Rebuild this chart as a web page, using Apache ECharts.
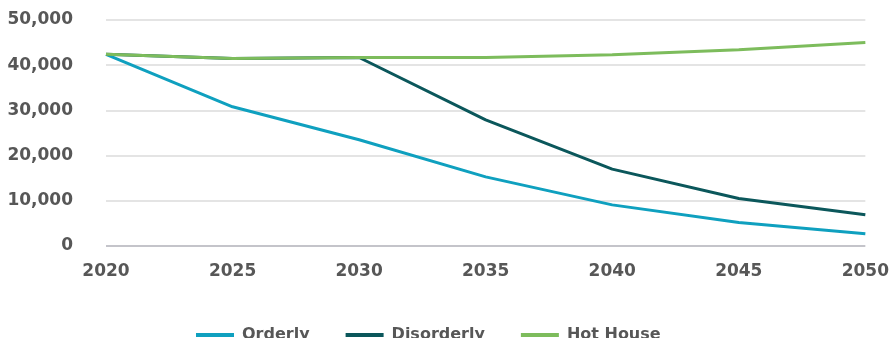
<!DOCTYPE html>
<html>
<head>
<meta charset="utf-8">
<script src="https://cdn.jsdelivr.net/npm/echarts@6/dist/echarts.min.js"></script>
<style>
  html, body { margin: 0; padding: 0; background: #ffffff; }
  #chart { width: 892px; height: 338px; }
</style>
</head>
<body>
<div id="chart"></div>
<script>
// Years along the horizontal axis
const years = ['2020', '2025', '2030', '2035', '2040', '2045', '2050'];

// Scenario pathways
const orderly    = [42400, 30800, 23500, 15300, 9100, 5200, 2700];
const disorderly = [42400, 41500, 41700, 27900, 17000, 10500, 6900];
const hotHouse   = [42400, 41500, 41700, 41700, 42300, 43400, 45000];

const seriesNames = ['Orderly', 'Disorderly', 'Hot House'];
const seriesColors = ['#0fa0bf', '#0b575b', '#7dbc5c'];

const textColor = '#575757';
const font = 'DejaVu Sans';

const chart = echarts.init(document.getElementById('chart'), null, { renderer: 'canvas' });

const makeLine = (name, data, color) => ({
  name: name,
  type: 'line',
  data: data,
  symbol: 'none',
  smooth: false,
  lineStyle: { color: color, width: 3 },
  itemStyle: { color: color }
});

chart.setOption({
  animation: false,
  backgroundColor: '#ffffff',
  grid: { left: 106, right: 23, top: 20, bottom: 92, containLabel: false },
  xAxis: {
    type: 'category',
    data: years,
    boundaryGap: false,
    axisLine: { show: false },
    axisTick: { show: false },
    axisLabel: {
      color: textColor, fontFamily: font, fontWeight: 'bold', fontSize: 17,
      margin: 17
    },
    splitLine: { show: false }
  },
  yAxis: {
    type: 'value',
    min: 0, max: 50000, interval: 10000,
    axisLine: { show: false },
    axisTick: { show: false },
    axisLabel: {
      color: textColor, fontFamily: font, fontWeight: 'bold', fontSize: 17,
      margin: 33,
      formatter: v => v.toLocaleString('en-US')
    },
    splitLine: {
      show: true,
      lineStyle: {
        width: 2,
        color: ['#c4c4ca', '#e4e4e4', '#e4e4e4', '#e4e4e4', '#e4e4e4', '#e4e4e4']
      }
    }
  },
  legend: {
    top: 327,
    left: 196,
    padding: 0,
    icon: 'rect',
    itemWidth: 38,
    itemHeight: 4,
    itemGap: 36,
    data: seriesNames,
    textStyle: {
      color: textColor, fontFamily: font, fontWeight: 'bold', fontSize: 16,
      padding: [0, 0, 0, 3]
    }
  },
  series: [
    makeLine(seriesNames[0], orderly, seriesColors[0]),
    makeLine(seriesNames[1], disorderly, seriesColors[1]),
    makeLine(seriesNames[2], hotHouse, seriesColors[2])
  ]
});
</script>
</body>
</html>
